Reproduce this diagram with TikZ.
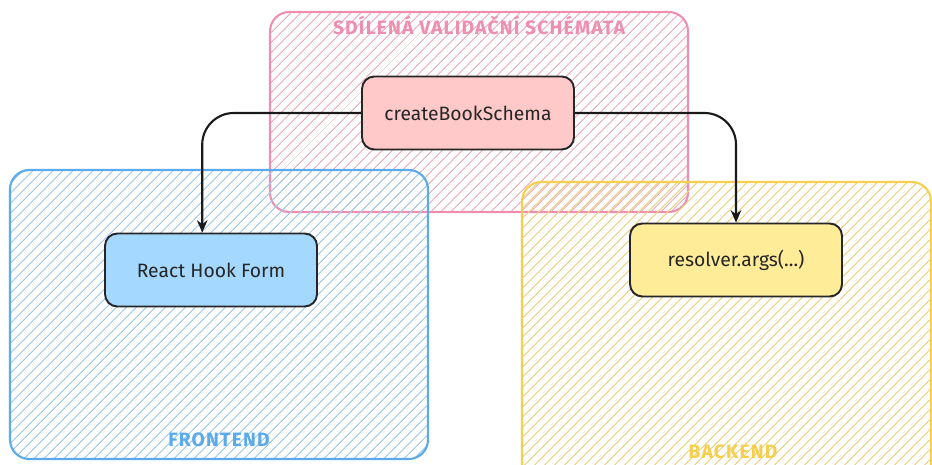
\documentclass[tikz,border=0pt]{standalone}
\usepackage{fontspec}
\setmainfont{Fira Sans}
\newfontfamily\titlefont[LetterSpace=6]{Fira Sans}
\usetikzlibrary{arrows.meta,patterns.meta,positioning}

\definecolor{pinkline}{HTML}{EC8FB0}
\definecolor{pinkhatch}{HTML}{EFB3BF}
\definecolor{pinkfill}{HTML}{FFC9C9}
\definecolor{blueline}{HTML}{5AAAEC}
\definecolor{bluehatch}{HTML}{A6CCEE}
\definecolor{bluefill}{HTML}{A5D8FF}
\definecolor{yellowline}{HTML}{F6CF4E}
\definecolor{yellowhatch}{HTML}{EAD488}
\definecolor{yellowfill}{HTML}{FFEC99}

\begin{document}
\begin{tikzpicture}[x=0.02cm,y=-0.02cm]
\tikzstyle{region}=[rounded corners=11pt,line width=1.2pt]
\tikzstyle{hatch}=[pattern={Lines[angle=45,distance=4pt,line width=0.65pt]}]
\tikzstyle{title}=[font=\titlefont\fontsize{11}{12}\selectfont\bfseries]
\tikzstyle{block}=[draw=black!85,line width=1.1pt,rounded corners=7pt,minimum width=4.24cm,minimum height=1.46cm,font=\fontsize{11}{13}\selectfont,text=black!85]
\tikzstyle{link}=[-{Stealth[length=7pt,width=6pt]},line width=1.2pt,draw=black!90,rounded corners=18pt]
\clip (0,0) rectangle (932,465);
\draw[region,hatch,draw=pinkline,pattern color=pinkhatch] (270,12) rectangle (688,212);
\draw[region,hatch,draw=blueline,pattern color=bluehatch] (10,170) rectangle (428,459);
\draw[region,hatch,draw=yellowline,pattern color=yellowhatch] (522,182) rectangle (931,490);
\node[title,text=pinkline] (shared) at (479,25) {SDÍLENÁ VALIDAČNÍ SCHÉMATA};
\node[title,text=blueline] (front) at (219,440) {FRONTEND};
\node[title,text=yellowline] (back) at (733,452) {BACKEND};
\node[block,fill=pinkfill] (schema) at (468,113) {createBookSchema};
\node[block,fill=bluefill] (form) at (211,270) {React Hook Form};
\node[block,fill=yellowfill] (resolver) at (736,260) {resolver.args(...)};
\draw[link] (schema.west) -| ([xshift=-5pt]form.north);
\draw[link] (schema.east) -| (resolver.north);
\end{tikzpicture}
\end{document}
